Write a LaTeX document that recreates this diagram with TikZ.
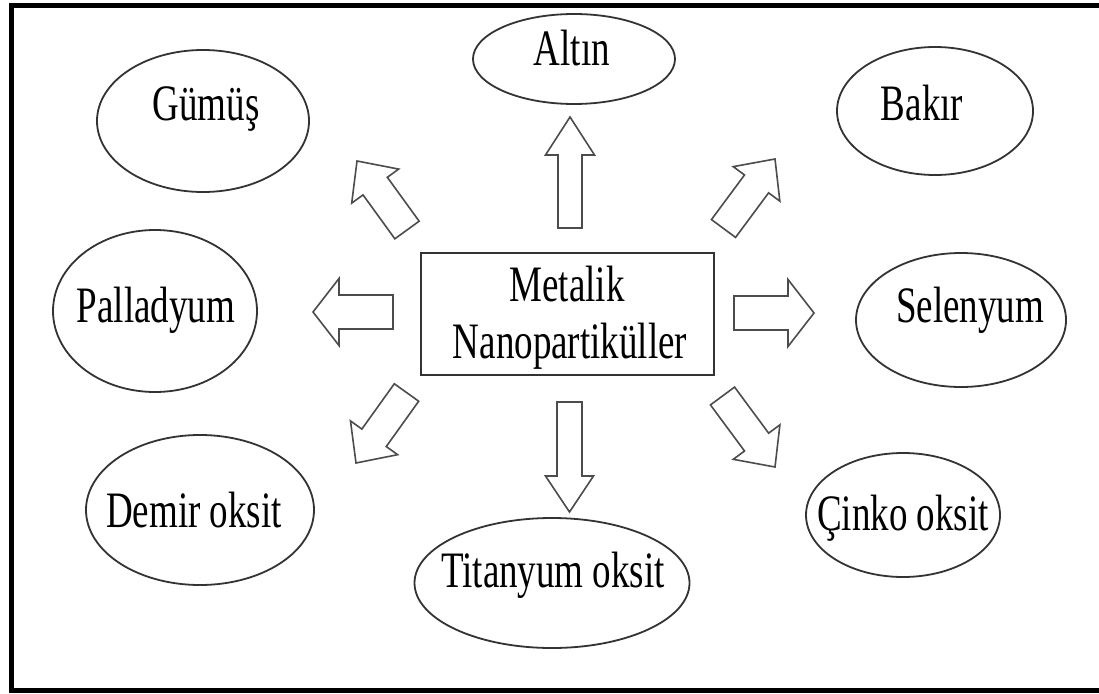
\documentclass[tikz,border=0pt]{standalone}
\usepackage{fontspec}
\setmainfont{Liberation Serif}
\usetikzlibrary{calc,shapes.geometric}
\tikzset{
  ell/.style={ellipse, draw=black!80, line width=1.8pt, inner sep=0pt},
  lbl/.style={anchor=base, inner sep=0pt, font=\fontsize{37}{44}\selectfont},
  mainbox/.style={rectangle, draw=black!80, line width=2pt, inner sep=0pt, minimum width=293pt, minimum height=122pt},
  arrowline/.style={draw=black!70, line width=1.6pt, line join=miter},
  framerule/.style={line width=5pt, black}
}
\newcommand{\tall}[1]{\scalebox{1}[1.38]{#1}}
\newcommand{\blockarrow}[5]{%
  \path ($(#2)!#5!(#1)$) coordinate (ab);
  \draw[arrowline] ($(#1)!#3!90:(#2)$) -- ($(ab)!#3!90:(#2)$) -- ($(ab)!#4!90:(#2)$) -- (#2)
    -- ($(ab)!#4!-90:(#2)$) -- ($(ab)!#3!-90:(#2)$) -- ($(#1)!#3!-90:(#2)$) -- cycle;}
\begin{document}
\begin{tikzpicture}[x=1pt, y=-1pt]
\useasboundingbox (0,0) rectangle (1099,693);
\fill[white] (0,0) rectangle (1099,693);
% frame
\draw[framerule, line cap=butt, line join=miter] (1099,5.5) -- (11,5.5) -- (11,690.5) -- (1099,690.5);
% centre
\node[mainbox] (metal) at (567.5,314) {};
\node[lbl] (metal-t1) at (567,301) {\tall{Metalik}};
\node[lbl] (metal-t2) at (570,358) {\tall{Nanopartiküller}};
% ellipses
\node[ell, minimum width=202pt, minimum height=90pt]  (altin) at (574,59) {};
\node[ell, minimum width=212pt, minimum height=142pt] (gumus) at (203,121) {};
\node[ell, minimum width=196pt, minimum height=128pt] (bakir) at (935,111) {};
\node[ell, minimum width=204pt, minimum height=162pt] (pallad) at (155,311) {};
\node[ell, minimum width=210pt, minimum height=134pt] (selen) at (961,320) {};
\node[ell, minimum width=228pt, minimum height=150pt] (demir) at (200,510) {};
\node[ell, minimum width=275pt, minimum height=130pt] (titan) at (552,583) {};
\node[ell, minimum width=194pt, minimum height=124pt] (cinko) at (903,515) {};
% labels
\node[lbl] (altin-t) at (572,65) {\tall{Altın}};
\node[lbl] (gumus-t) at (206,120) {\tall{Gümüş}};
\node[lbl] (bakir-t) at (922,120) {\tall{Bakır}};
\node[lbl] (pallad-t) at (156,322) {\tall{Palladyum}};
\node[lbl] (selen-t) at (970,322) {\tall{Selenyum}};
\node[lbl] (demir-t) at (194,527) {\tall{Demir oksit}};
\node[lbl] (titan-t) at (553,587) {\tall{Titanyum oksit}};
\node[lbl] (cinko-t) at (903,530) {\tall{Çinko oksit}};
% arrow end points
\coordinate (up-tail) at (570,228);   \coordinate (up-tip) at (570,117);
\coordinate (dn-tail) at (569.5,402); \coordinate (dn-tip) at (569.5,512);
\coordinate (lf-tail) at (393,312);   \coordinate (lf-tip) at (313,312);
\coordinate (rt-tail) at (734,313);   \coordinate (rt-tip) at (814,313);
\coordinate (ul-tail) at (407,230);   \coordinate (ul-tip) at (357,161);
\coordinate (ur-tail) at (723.5,228.5); \coordinate (ur-tip) at (775,159);
\coordinate (ll-tail) at (406.5,392.5); \coordinate (ll-tip) at (356,463);
\coordinate (lr-tail) at (722.5,396); \coordinate (lr-tip) at (775,467);
% block arrows
\blockarrow{up-tail}{up-tip}{12pt}{24.5pt}{38pt}
\blockarrow{dn-tail}{dn-tip}{12.5pt}{24pt}{36pt}
\blockarrow{lf-tail}{lf-tip}{17pt}{33.5pt}{26pt}
\blockarrow{rt-tail}{rt-tip}{17pt}{33.5pt}{26pt}
\blockarrow{ul-tail}{ul-tip}{15pt}{29pt}{31pt}
\blockarrow{ur-tail}{ur-tip}{15pt}{29pt}{31pt}
\blockarrow{ll-tail}{ll-tip}{15pt}{29pt}{31pt}
\blockarrow{lr-tail}{lr-tip}{15pt}{29pt}{31pt}
\end{tikzpicture}
\end{document}
